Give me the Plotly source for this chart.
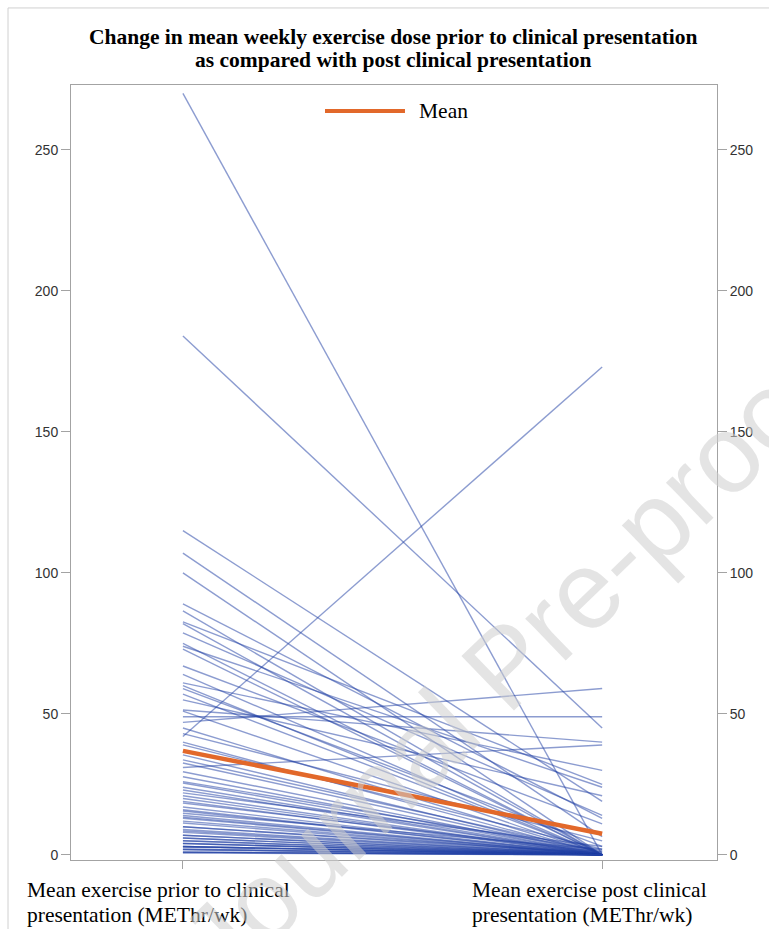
import plotly.graph_objects as go

# Mean weekly exercise dose (METhr/wk) per subject, before and after clinical presentation
prior = [270, 184, 115, 107, 100, 89, 86.5, 82.6, 82, 78.7,
         75, 74, 73, 67, 64, 61, 60, 59, 57, 55,
         51.4, 51, 49, 47, 45, 43, 42, 40, 39, 35.5,
         33.7, 32.6, 31, 29.5, 27.7, 26, 25.5, 24, 23, 22,
         21, 20, 19, 18.4, 17, 16, 15.6, 14.8, 14, 13.4,
         13, 12, 11.3, 10, 10, 9, 8.5, 8, 7, 7,
         6, 6, 5, 5, 4.2, 4, 4, 3, 3, 3,
         2.8, 2, 2, 1.8, 1, 1, 1, 0.7]
post = [0, 45, 19, 6.5, 0, 13, 0, 25, 0, 14,
        0, 24, 0, 11, 0, 30, 0, 3, 0, 21,
        40, 0, 49, 59, 0, 5, 173, 0, 2, 0,
        1, 0, 39, 0, 0, 1.5, 0, 0, 0, 3,
        0, 0, 0, 1, 0, 0, 0, 2, 0, 0,
        0, 0, 0, 0, 0.5, 0, 0, 0, 0, 0,
        0, 0, 0, 0, 0, 0, 0, 0, 0, 0,
        0, 0, 0, 0, 0, 0, 0, 0]

timepoints = [0, 1]
title_lines = ["Change in mean weekly exercise dose prior to clinical presentation",
               "as compared with post clinical presentation"]
x_label_lines = [["Mean exercise prior to clinical", "presentation (METhr/wk)"],
                 ["Mean exercise post clinical", "presentation (METhr/wk)"]]
y_ticks = [0, 50, 100, 150, 200, 250]

mean_prior = sum(prior) / len(prior)
mean_post = sum(post) / len(post)

SERIF = "Liberation Serif, Times New Roman, serif"
SANS = "Liberation Sans, Arial, sans-serif"
AXIS_GREY = "#a3a3a3"
ORANGE = "#E2682A"
SERIF_SIZE = 21.5

fig = go.Figure()

for a, b in zip(prior, post):
    fig.add_trace(go.Scatter(
        x=timepoints, y=[a, b], mode="lines",
        line=dict(color="rgba(35,65,165,0.52)", width=1.4),
        showlegend=False, hoverinfo="skip"))

fig.add_trace(go.Scatter(
    x=timepoints, y=[mean_prior, mean_post], mode="lines",
    line=dict(color=ORANGE, width=4.5), name="Mean", showlegend=False))

# invisible twin so the right-hand axis is rendered
fig.add_trace(go.Scatter(
    x=timepoints, y=[mean_prior, mean_post], mode="lines", yaxis="y2",
    line=dict(color="rgba(0,0,0,0)"), showlegend=False, hoverinfo="skip"))

yrange = [-1.8, 273]
axis_common = dict(range=yrange, tickvals=y_ticks, ticks="outside", ticklen=9,
                   tickcolor=AXIS_GREY, showline=True, linecolor=AXIS_GREY,
                   linewidth=1, showgrid=False, zeroline=False,
                   tickfont=dict(family=SANS, size=14, color="#333333"))

fig.update_layout(
    width=769, height=929,
    margin=dict(l=71, r=52, t=85, b=69),
    paper_bgcolor="white", plot_bgcolor="white",
    xaxis=dict(range=[-0.267, 1.274], tickvals=timepoints, ticktext=["", ""],
               ticks="outside", ticklen=8, tickcolor=AXIS_GREY,
               showline=True, mirror=True, linecolor=AXIS_GREY, linewidth=1,
               showgrid=False, zeroline=False),
    yaxis=dict(**axis_common, side="left"),
    yaxis2=dict(**axis_common, side="right", overlaying="y"),
    showlegend=False,
)

# two-line bold title
for yp, txt in zip([1.0619, 1.0323], title_lines):
    fig.add_annotation(x=0.4992, y=yp, xref="paper", yref="paper",
                       xanchor="center", yanchor="middle", text=f"<b>{txt}</b>",
                       showarrow=False,
                       font=dict(family=SERIF, size=SERIF_SIZE, color="black"))

# category labels under the axis, one annotation per text line
for xp, lines in zip([-0.0712, 0.6176], x_label_lines):
    for yp, txt in zip([-0.0387, -0.0710], lines):
        fig.add_annotation(x=xp, y=yp, xref="paper", yref="paper",
                           xanchor="left", yanchor="middle", align="left",
                           text=txt, showarrow=False,
                           font=dict(family=SERIF, size=SERIF_SIZE, color="black"))

# legend entry for the mean line
fig.add_shape(type="line", xref="paper", yref="paper",
              x0=0.3932, x1=0.517, y0=0.9665, y1=0.9665,
              line=dict(color=ORANGE, width=4))
fig.add_annotation(x=0.5356, y=0.9665, xref="paper", yref="paper",
                   xanchor="left", yanchor="middle", text="Mean",
                   showarrow=False, font=dict(family=SERIF, size=SERIF_SIZE, color="black"))

# outer frame
fig.add_shape(type="rect", xref="paper", yref="paper",
              x0=-0.0975, x1=1.09, y0=-0.1, y1=1.0994,
              line=dict(color="#d0d0d0", width=1), layer="below")

# watermark
fig.add_annotation(x=0.672, y=0.251, xref="paper", yref="paper",
                   xanchor="center", yanchor="middle",
                   text="Journal Pre-proof", showarrow=False, textangle=-44,
                   font=dict(family=SANS, size=110, color="rgba(205,205,205,0.55)"))

fig.write_html("out.html")
